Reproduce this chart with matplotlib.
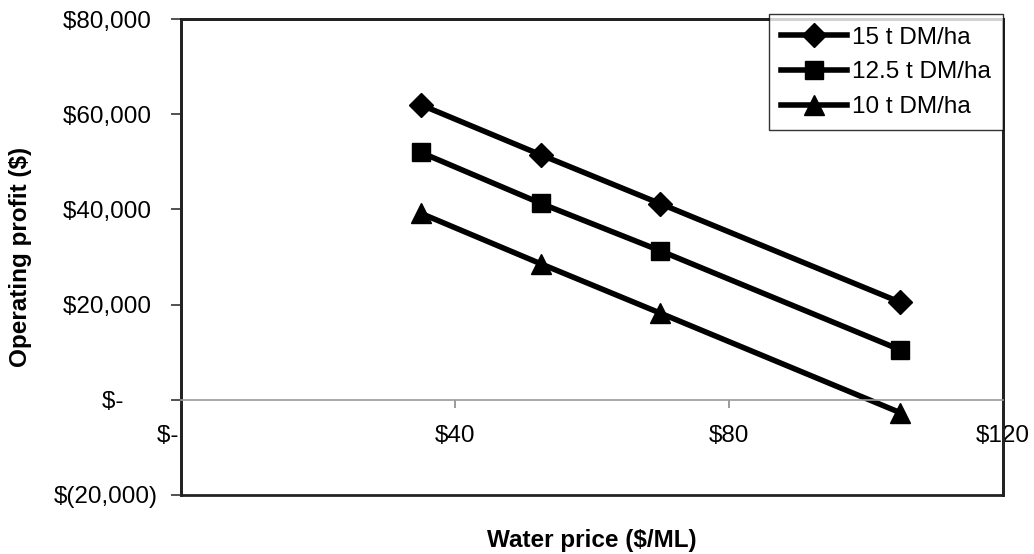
import matplotlib.pyplot as plt
from matplotlib.patches import Rectangle

# Water price ($/ML)
water_price = [35, 52.5, 70, 105]

# Operating profit ($) for each yield level
profit_15 = [62000, 51500, 41200, 20500]
profit_125 = [52000, 41300, 31300, 10500]
profit_10 = [39200, 28600, 18200, -2700]

series_labels = ['15 t DM/ha', '12.5 t DM/ha', '10 t DM/ha']

x_ticks = [0, 40, 80, 120]
x_tick_labels = ['$-    ', '$40', '$80', '$120']
y_ticks = [-20000, 0, 20000, 40000, 60000, 80000]
y_tick_labels = ['$(20,000)', '$-     ', '$20,000 ', '$40,000 ', '$60,000 ', '$80,000 ']

plt.rcParams['font.family'] = ['Liberation Sans', 'DejaVu Sans']
FS = 17.5

fig = plt.figure(figsize=(10.34, 5.54), dpi=100)
ax = fig.add_axes([0.175, 0.1065, 0.795, 0.859])

markers = ['D', 's', '^']
sizes = [12, 12.5, 14]
for vals, label, m, ms in zip([profit_15, profit_125, profit_10], series_labels, markers, sizes):
    ax.plot(water_price, vals, color='black', lw=4, marker=m, markersize=ms, label=label)

ax.set_xlim(0, 120)
ax.set_ylim(-20000, 80000)

# x axis sits on the zero line, labels hang below it
ax.spines['bottom'].set_position(('data', 0))
ax.spines['bottom'].set_color('#9a9a9a')
ax.spines['bottom'].set_linewidth(1.2)
ax.set_xticks(x_ticks)
ax.set_xticklabels(x_tick_labels, fontsize=FS)
ax.tick_params(axis='x', direction='out', length=6, width=1.2, color='#8a8a8a', pad=12)

ax.set_yticks(y_ticks)
ax.set_yticklabels(y_tick_labels, fontsize=FS)
ax.tick_params(axis='y', direction='out', length=7, width=1.2, color='#333333', pad=10)

for side in ['left', 'top', 'right']:
    ax.spines[side].set_color('#222222')
    ax.spines[side].set_linewidth(2)

# outer frame (bottom edge, since the bottom spine moved to zero)
ax.add_patch(Rectangle((0, 0), 1, 1, transform=ax.transAxes, fill=False,
                       edgecolor='#222222', lw=2, clip_on=False, zorder=0))

ax.set_ylabel('Operating profit ($)', fontsize=FS, fontweight='bold')
ax.yaxis.set_label_coords(-0.181, 0.5)
ax.set_xlabel('Water price ($/ML)', fontsize=FS, fontweight='bold', va='top')
ax.xaxis.set_label_coords(0.5, -0.072)

leg = ax.legend(loc='upper right', bbox_to_anchor=(1.0, 1.01), fontsize=FS,
                frameon=True, fancybox=False, borderaxespad=0,
                handlelength=2.7, handletextpad=0.2,
                labelspacing=0.53, borderpad=0.5)
leg.get_frame().set_edgecolor('black')
leg.get_frame().set_linewidth(1)

fig.savefig('out.png', dpi=100)
